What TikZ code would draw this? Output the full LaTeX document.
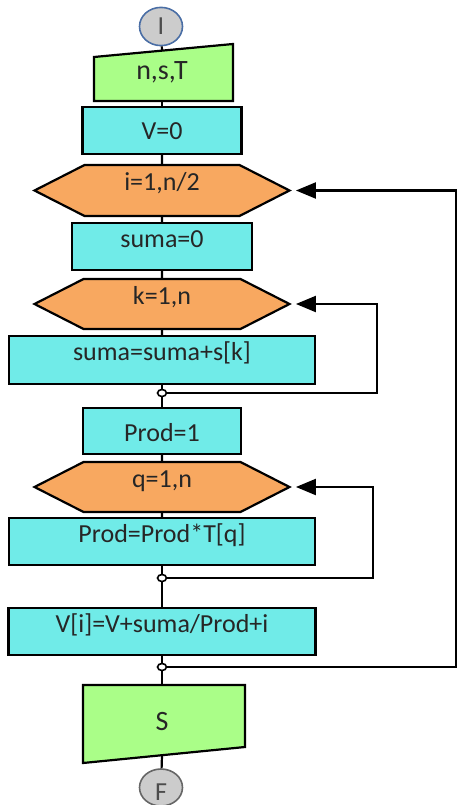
\documentclass[tikz,border=0pt]{standalone}
\usepackage{fontspec}
\setmainfont{Carlito}
\usepackage{tikz}
\usetikzlibrary{shapes.geometric,shapes.symbols,arrows.meta}

\definecolor{celeste}{RGB}{112,235,232}
\definecolor{naranja}{RGB}{248,168,96}
\definecolor{verde}{RGB}{170,254,136}
\definecolor{gris}{RGB}{204,204,204}
\definecolor{azulborde}{RGB}{74,110,165}

\begin{document}
\begin{tikzpicture}[x=1pt,y=-1pt,font=\fontsize{26}{30}\selectfont,text=black!85,
  proc/.style={draw,fill=celeste,line width=2.2pt,minimum height=47pt,inner sep=0pt,text height=#1,text depth=5pt},
  proc/.default=5pt,
  ciclo/.style={draw,fill=naranja,line width=2.2pt,signal,signal to=west and east,signal pointer angle=54,
    minimum width=255pt,minimum height=51pt,inner sep=0pt,text height=5pt,text depth=5pt},
  extremo/.style={draw,fill=gris,ellipse,line width=1.6pt,minimum width=43pt,minimum height=37pt,inner sep=0pt,
    text=black!70,text height=#1,text depth=5pt},
  union/.style={draw,fill=white,ellipse,line width=1.6pt,minimum width=9pt,minimum height=7pt,inner sep=0pt},
  linea/.style={line width=2.2pt},
  flecha/.style={line width=2.2pt,-{Triangle[length=20pt,width=16pt]},shorten >=4pt}]

\useasboundingbox (0,0) rectangle (458,805);

\node[extremo=22pt,draw=azulborde] (ini) at (161,26.5) {I};							% inicio
\draw[linea,fill=verde] (94,57) -- (233,44) -- (233,101) -- (94,101) -- cycle;		% lectura
\node[minimum height=50pt,inner sep=0pt,text height=13pt,text depth=5pt,font=\fontsize{28}{32}\selectfont] (ent) at (162,76) {n,s,T};
\node[proc=24pt,minimum width=159pt] (v0) at (162,130.5) {V=0};

\node[ciclo] (ci) at (162,190.5) {i=1,n/2};										% ciclo i
\node[proc=6pt,minimum width=180pt] (s0) at (162,246.5) {suma=0};

\node[ciclo,minimum height=50pt] (ck) at (162,304) {k=1,n};							% ciclo k
\node[proc,minimum width=306pt,minimum height=48pt] (sk) at (162,360) {suma=suma+s[k]};
\node[union] (j1) at (162,393) {};

\node[proc=25pt,minimum width=158pt,minimum height=46pt] (p1) at (162,431) {Prod=1};

\node[ciclo,minimum height=50pt] (cq) at (162,487) {q=1,n};							% ciclo q
\node[proc=6pt,minimum width=306pt] (pq) at (162,541.5) {Prod=Prod*T[q]};
\node[union] (j2) at (162,578) {};

\node[proc=6pt,minimum width=307pt] (vi) at (162,631.5) {V[i]=V+suma/Prod+i};
\node[union] (j3) at (162,667) {};

\draw[linea,fill=verde] (83,685) -- (245,685) -- (245,747) -- (83,763) -- cycle;	% escritura
\node[minimum height=70pt,inner sep=0pt,text height=25pt,text depth=5pt,font=\fontsize{28}{32}\selectfont] (sal) at (162,720) {S};
\node[extremo=25pt,draw=black!60,text depth=0pt] (fin) at (161,787.5) {F};			% fin

% flujo principal
\draw[linea] (ini) -- (ent.north);
\draw[linea] (ent.south) -- (v0);
\draw[linea] (v0) -- (ci);
\draw[linea] (ci) -- (s0);
\draw[linea] (s0) -- (ck);
\draw[linea] (ck) -- (sk);
\draw[linea] (sk) -- (j1);
\draw[linea] (j1) -- (p1);
\draw[linea] (p1) -- (cq);
\draw[linea] (cq) -- (pq);
\draw[linea] (pq) -- (j2);
\draw[linea] (j2) -- (vi);
\draw[linea] (vi) -- (j3);
\draw[linea] (j3) -- (sal.north);
\draw[linea] (sal.south) -- (fin);

% retornos
\coordinate (rk) at (377,393);
\coordinate (rq) at (373,578);
\coordinate (ri) at (456,667);
\draw[flecha] (j1.east) -- (rk) |- (ck.east);										% vuelta ciclo k
\draw[flecha] (j2.east) -- (rq) |- (cq.east);										% vuelta ciclo q
\draw[flecha] (j3.east) -- (ri) |- (ci.east);										% vuelta ciclo i

\end{tikzpicture}
\end{document}
